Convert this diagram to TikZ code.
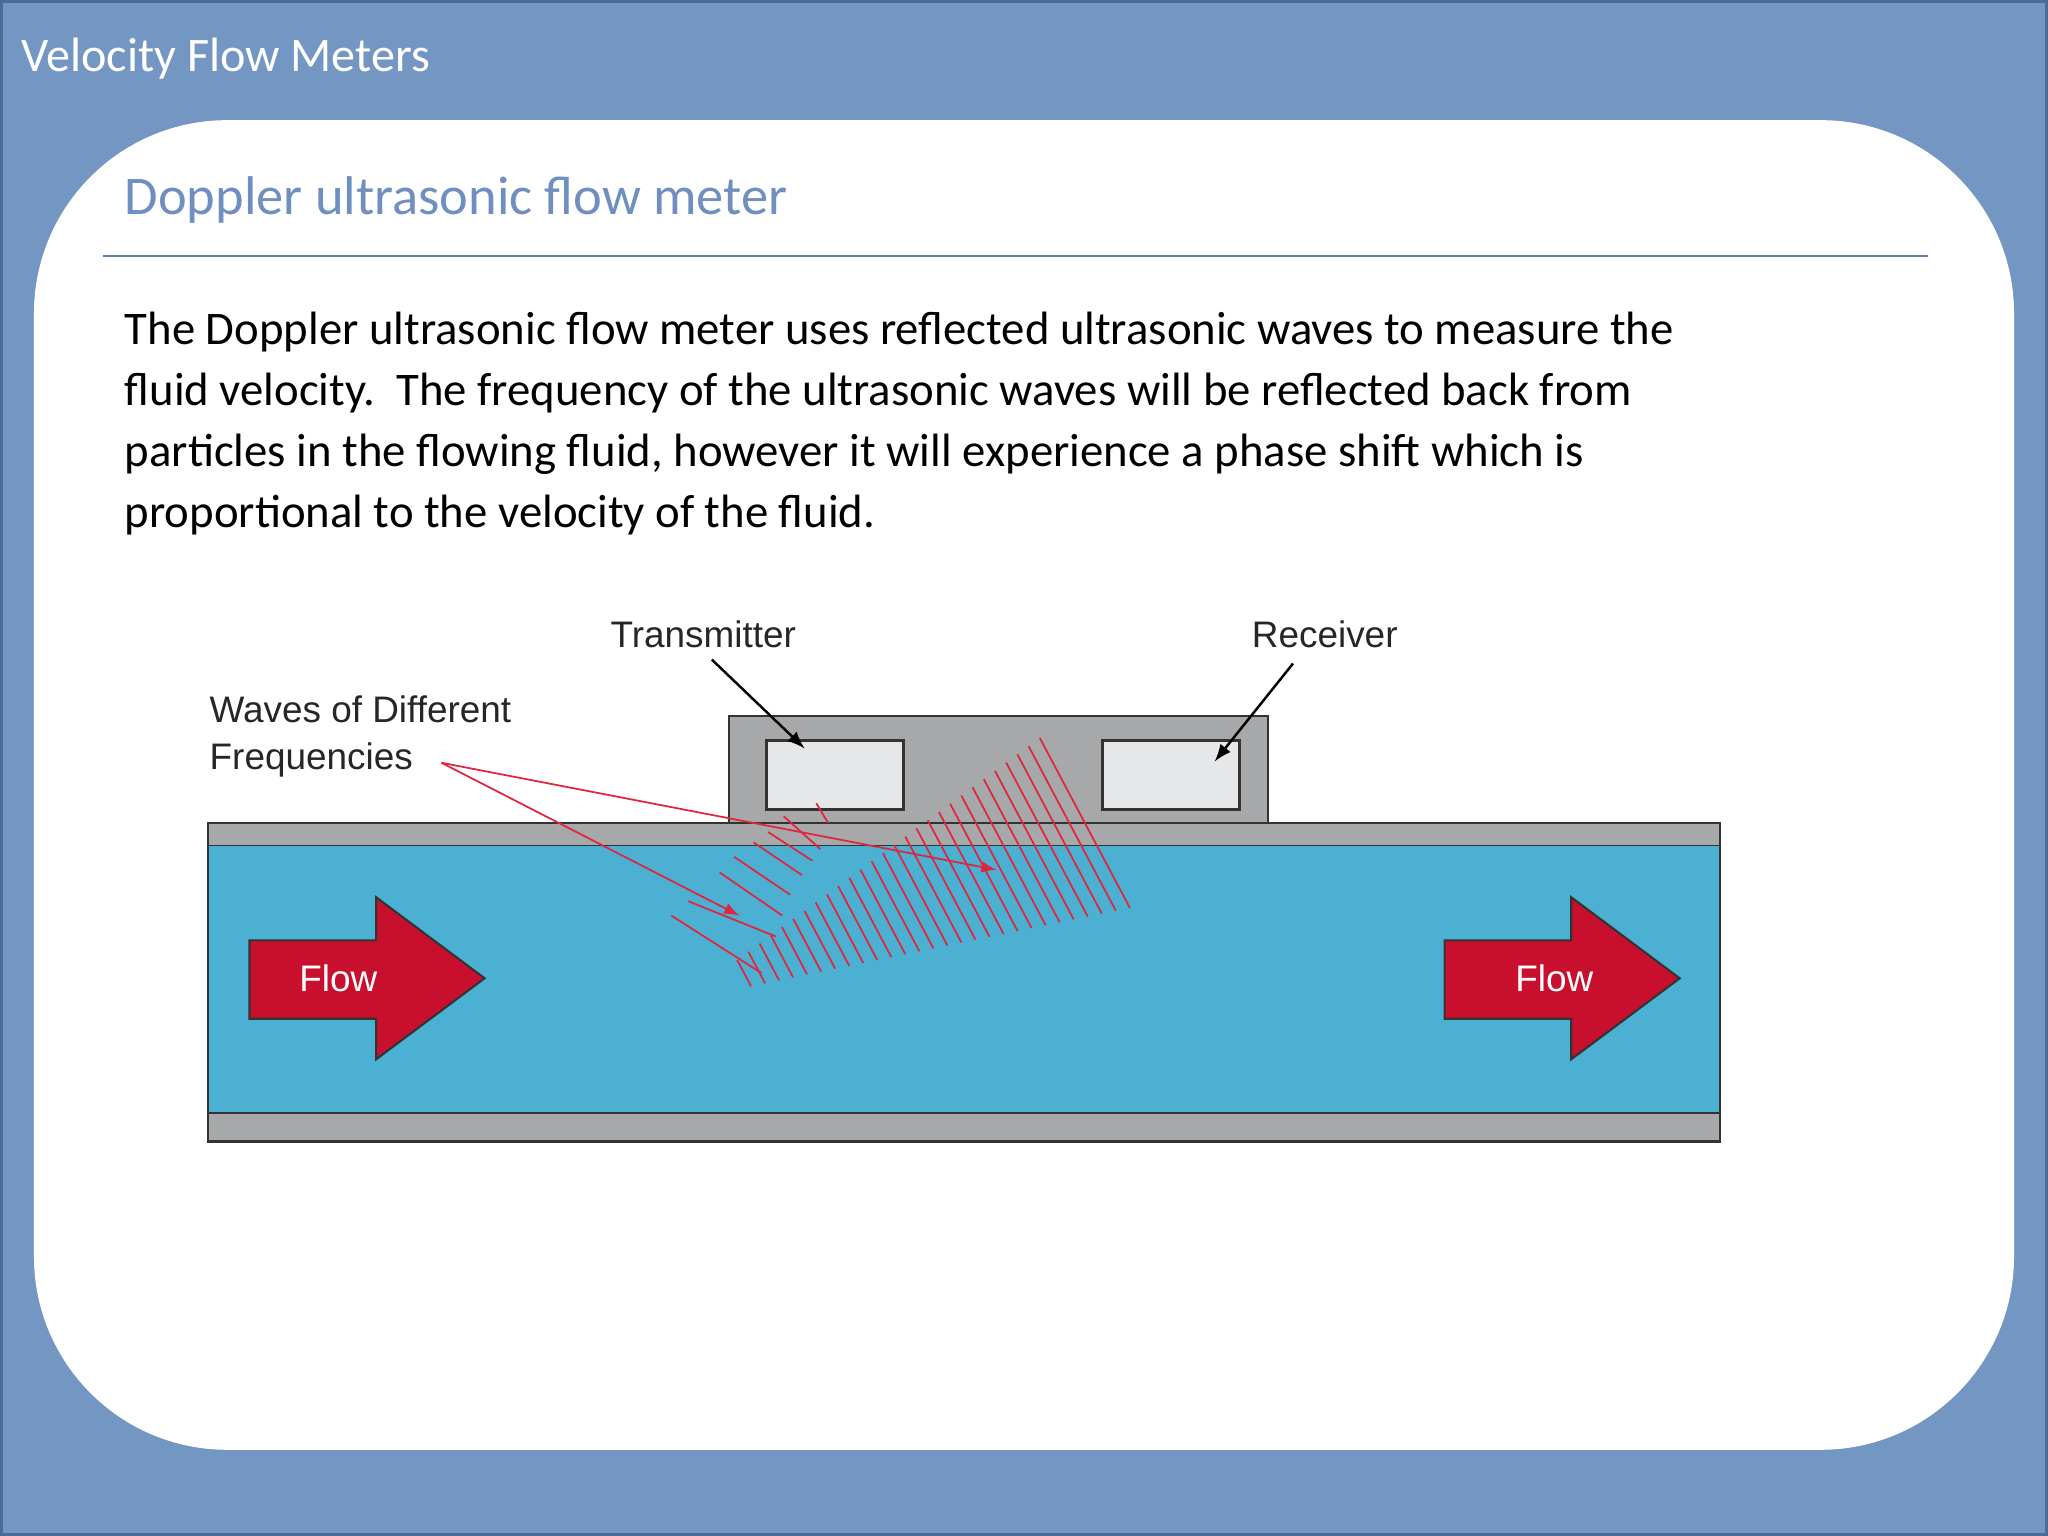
\documentclass[tikz,border=0pt]{standalone}
\usepackage{fontspec}
\setmainfont{Carlito}
\newfontfamily\arl{Liberation Sans}
\definecolor{bgb}{HTML}{7396C2}
\definecolor{bdr}{HTML}{4A6C9B}
\definecolor{subt}{HTML}{6E8FBF}
\definecolor{rul}{HTML}{5B7FB0}
\definecolor{gry}{HTML}{A7A8AA}
\definecolor{lbox}{HTML}{E6E7E9}
\definecolor{fluid}{HTML}{4BB0D2}
\definecolor{fred}{HTML}{C8102E}
\definecolor{wred}{HTML}{E0263F}
\begin{document}
\begin{tikzpicture}[x=0.013061cm,y=-0.013061cm,
  lab/.style={font=\arl\fontsize{10.5}{12}\selectfont,text=black!85,anchor=base west,inner sep=0},
  wall/.style={fill=gry,draw=black!80,line width=0.6pt},
  wave/.style={draw=wred,line width=0.5pt},
  flowarrow/.style={fill=fred,draw=black!80,line width=0.6pt}]
\useasboundingbox (0,0) rectangle (1568,1176);
\fill[bgb] (0,0) rectangle (1568,1176);
\draw[bdr,line width=1.2pt] (1,1) rectangle (1567,1175);
\node[anchor=base west,inner sep=0,text=white,font=\fontsize{13.7}{16}\selectfont] (title) at (16,55) {Velocity Flow Meters};
\fill[white,rounded corners=55] (26,92) rectangle (1542,1110);
\node[anchor=base west,inner sep=0,text=subt,font=\fontsize{15.5}{18}\selectfont] (sub) at (95,164) {Doppler ultrasonic flow meter};
\draw[rul,line width=0.6pt] (79,196) -- (1476,196);
\node[anchor=north west,inner sep=0,align=left,font=\fontsize{13.3}{17.4}\selectfont] (body) at (95,238) {The Doppler ultrasonic flow meter uses reflected ultrasonic waves to measure the\\fluid velocity.\ \ The frequency of the ultrasonic waves will be reflected back from\\particles in the flowing fluid, however it will experience a phase shift which is\\proportional to the velocity of the fluid.};
% pipe
\draw[wall] (558,548) rectangle (971,630);
\draw[fill=lbox,draw=black!80,line width=0.8pt] (587,567) rectangle (692,620);
\draw[fill=lbox,draw=black!80,line width=0.8pt] (844,567) rectangle (949,620);
\draw[wall] (159,630) rectangle (1317,648);
\fill[fluid] (159,648) rectangle (1317,852);
\draw[black!80,line width=0.6pt] (159,648) -- (159,852) (1317,648) -- (1317,852);
\draw[wall] (159,852) rectangle (1317,874);
% flow arrows
\draw[flowarrow] (191,720) -- (288,720) -- (288,687) -- (371,749) -- (288,811) -- (288,780) -- (191,780) -- cycle;
\node[text=white,font=\arl\fontsize{10.5}{12}\selectfont,inner sep=0] (f1) at (259,749) {Flow};
\draw[flowarrow] (1106,720) -- (1203,720) -- (1203,687) -- (1286,749) -- (1203,811) -- (1203,780) -- (1106,780) -- cycle;
\node[text=white,font=\arl\fontsize{10.5}{12}\selectfont,inner sep=0] (f2) at (1190,749) {Flow};
% labels
\node[lab] (tx) at (467,496) {Transmitter};
\node[lab] (rx) at (958,496) {Receiver};
\node[lab] (w1) at (160,553) {Waves of Different};
\node[lab] (w2) at (160,589) {Frequencies};
\coordinate (txend) at (616,573);
\coordinate (rxend) at (930,583);
\draw[-latex,line width=0.7pt] (545,505) -- (txend);
\draw[-latex,line width=0.7pt] (990,508) -- (rxend);
% waves
\coordinate (o) at (338,584);
\coordinate (a1) at (763,666);
\coordinate (a2) at (566,701);
\draw[wave,-latex] (o) -- (a1);
\draw[wave,-latex] (o) -- (a2);
\foreach \x/\y/\u/\v in {625/615/634/630, 600/625/628/650, 588/637/622/659, 577/645/614/670, 562/656/605/685, 551/668/599/701, 527/690/594/717, 514/701/583/745}
  \draw[wave] (\x,\y) -- (\u,\v);
\foreach \i in {0,...,27}{
  \pgfmathsetmacro\t{\i/27}
  \pgfmathsetmacro\bx{575+290*\t}
  \pgfmathsetmacro\by{755-60*\t}
  \pgfmathsetmacro\h{20+110*\t}
  \draw[wave] (\bx,\by) -- ++(-0.53*\h,-\h);
}
\end{tikzpicture}
\end{document}
